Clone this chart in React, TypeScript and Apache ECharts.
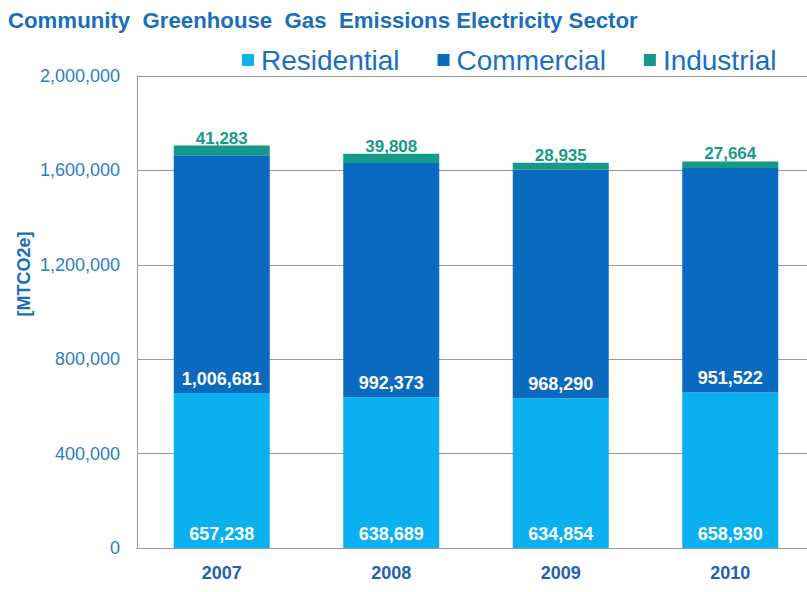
import React, { useEffect, useRef } from "react";
import * as echarts from "echarts";

const years = ["2007", "2008", "2009", "2010"];
const residential = [657238, 638689, 634854, 658930];
const commercial = [1006681, 992373, 968290, 951522];
const industrial = [41283, 39808, 28935, 27664];
const yTicks = { min: 0, max: 2000000, interval: 400000 };
const titleText = "Community  Greenhouse  Gas  Emissions Electricity Sector";
const yName = "[MTCO2e]";

const fmt = (v: number) => v.toLocaleString("en-US");

export default function App() {
  const ref = useRef<HTMLDivElement>(null);
  useEffect(() => {
    if (!ref.current) return;
    const chart = echarts.init(ref.current, null, { renderer: "svg" });
    const font = "'Liberation Sans', Arial, sans-serif";
    const valueLabel = {
      show: true,
      position: "insideBottom",
      distance: 5,
      fontFamily: font,
      fontWeight: "bold",
      fontSize: 18,
      color: "#ffffff",
      formatter: (p: any) => fmt(p.value),
    };
    chart.setOption({
      animation: false,
      backgroundColor: "#ffffff",
      graphic: [
        {
          type: "text",
          x: 8,
          y: 10,
          scaleX: 1.01,
          style: {
            text: titleText,
            font: "bold 22px 'Liberation Sans', Arial, sans-serif",
            fill: "#1a6fb8",
            textAlign: "left",
            textVerticalAlign: "top",
          },
        },
        {
          type: "text",
          x: 24,
          y: 274,
          rotation: Math.PI / 2,
          style: {
            text: yName,
            font: "bold 18px 'Liberation Sans', Arial, sans-serif",
            fill: "#1a6eb8",
            textAlign: "center",
            textVerticalAlign: "middle",
          },
        },
      ],
      legend: {
        left: 237,
        top: 41,
        itemWidth: 12,
        itemHeight: 12,
        itemGap: 38,
        icon: "rect",
        textStyle: { fontFamily: font, fontSize: 28, color: "#1a6fc0", padding: [0, 0, 0, 2] },
        data: ["Residential", "Commercial", "Industrial"],
      },
      grid: { left: 137, top: 76, bottom: 44, right: 0, containLabel: false },
      xAxis: {
        type: "category",
        data: years,
        axisLine: { lineStyle: { color: "#9a9a9a", width: 1 } },
        axisTick: { show: false },
        axisLabel: { fontFamily: font, fontWeight: "bold", fontSize: 18, color: "#1f62ad", margin: 16 },
      },
      yAxis: {
        type: "value",
        min: yTicks.min,
        max: yTicks.max,
        interval: yTicks.interval,
        axisLine: { show: true, lineStyle: { color: "#9a9a9a", width: 1 } },
        axisTick: { show: false },
        splitLine: { lineStyle: { color: "#9a9a9a", width: 1 } },
        axisLabel: { fontFamily: font, fontSize: 18, color: "#2a7fc4", margin: 17, formatter: (v: number) => fmt(v) },
      },
      series: [
        {
          name: "Residential",
          type: "bar",
          stack: "total",
          barWidth: 96,
          data: residential,
          itemStyle: { color: "#0ab0ef" },
          label: valueLabel,
        },
        {
          name: "Commercial",
          type: "bar",
          stack: "total",
          barWidth: 96,
          data: commercial,
          itemStyle: { color: "#0a6ac0" },
          label: valueLabel,
        },
        {
          name: "Industrial",
          type: "bar",
          stack: "total",
          barWidth: 96,
          data: industrial,
          itemStyle: { color: "#169a88" },
          label: {
            show: true,
            position: "top",
            distance: -1,
            fontFamily: font,
            fontWeight: "bold",
            fontSize: 17,
            color: "#169a88",
            formatter: (p: any) => fmt(p.value),
          },
        },
      ],
    });
    return () => chart.dispose();
  }, []);
  return (
    <div style={{ position: "absolute", left: 0, top: 0, width: 807, height: 592, overflow: "hidden", background: "#fff" }}>
      <div ref={ref} style={{ width: 815, height: 592 }} />
    </div>
  );
}
